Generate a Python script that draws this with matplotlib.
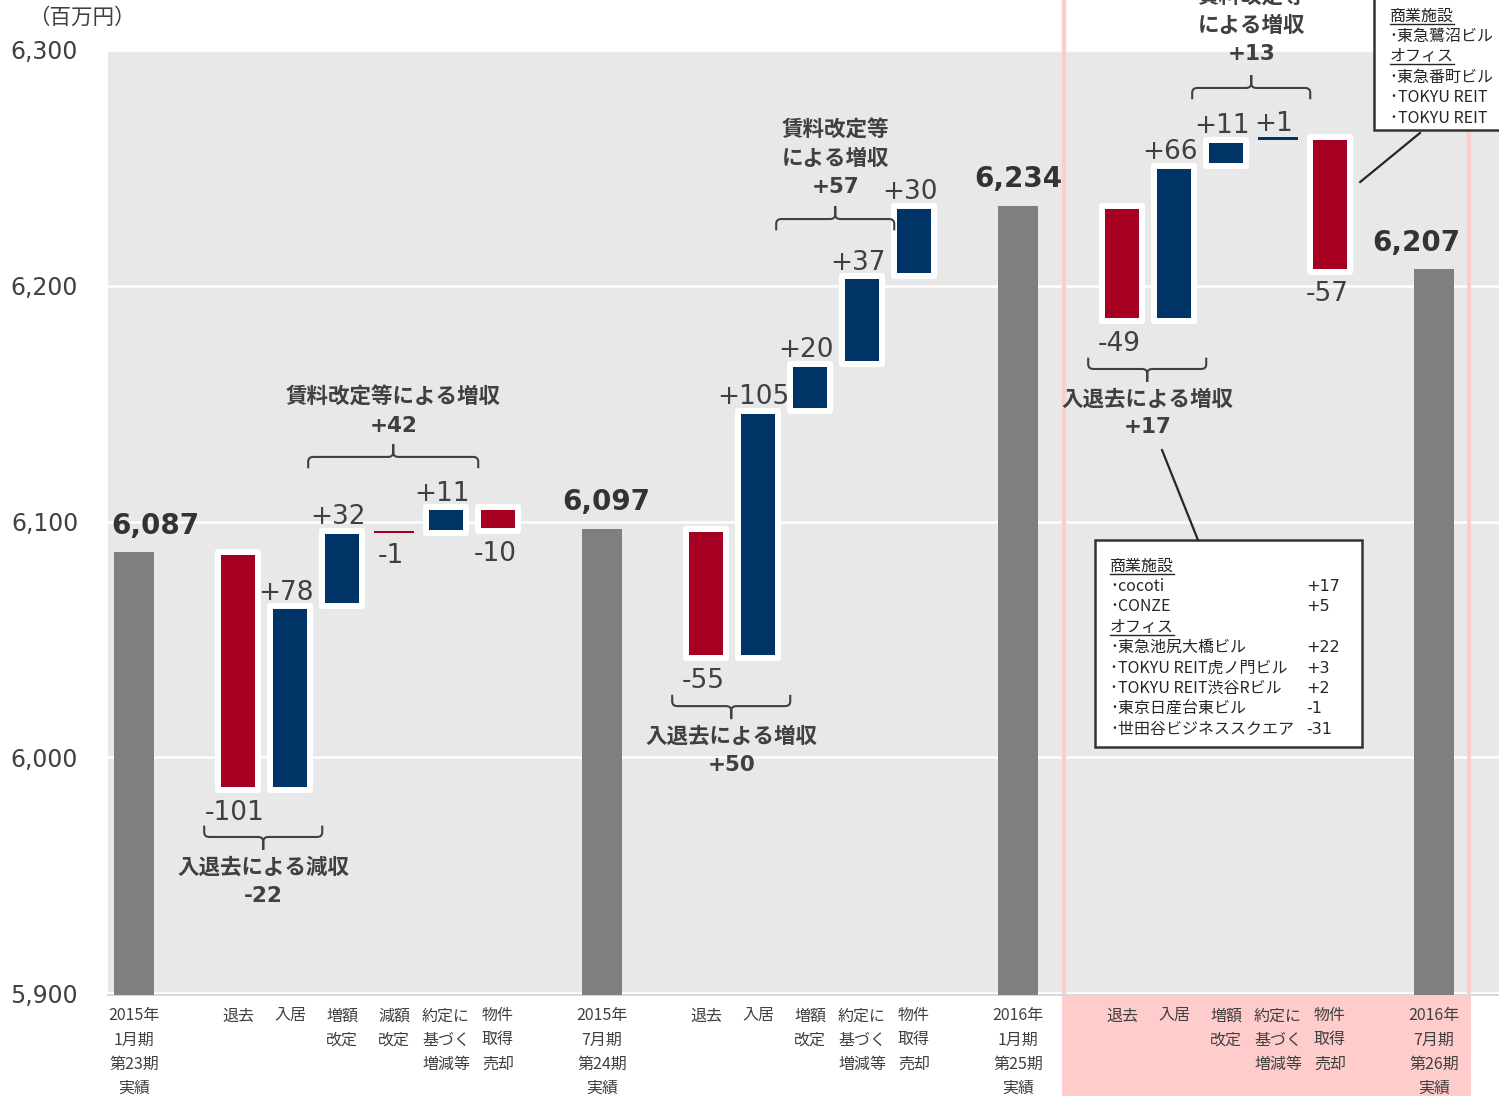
import numpy as np
import matplotlib.pyplot as plt
import matplotlib.transforms as mtransforms
from matplotlib.patches import Rectangle, PathPatch
from matplotlib.path import Path

plt.rcParams['font.family'] = ['DejaVu Sans', 'Noto Sans CJK JP']
JP = ['Noto Sans CJK JP', 'DejaVu Sans']

# ---- data ----
period_labels = ["2015年\n1月期\n第23期\n実績", "2015年\n7月期\n第24期\n実績",
                 "2016年\n1月期\n第25期\n実績", "2016年\n7月期\n第26期\n実績"]
period_totals = [6087, 6097, 6234, 6207]

step_labels = [
    ["退去", "入居", "増額\n改定", "減額\n改定", "約定に\n基づく\n増減等", "物件\n取得\n売却"],
    ["退去", "入居", "増額\n改定", "約定に\n基づく\n増減等", "物件\n取得\n売却"],
    ["退去", "入居", "増額\n改定", "約定に\n基づく\n増減等", "物件\n取得\n売却"],
]
step_values = [
    [-101, 78, 32, -1, 11, -10],
    [-55, 105, 20, 37, 30],
    [-49, 66, 11, 1, -57],
]

# brace groups: (period, first step, last step)
group_steps = [(0, 0, 1), (0, 2, 4), (1, 0, 1), (1, 2, 3), (2, 0, 1), (2, 2, 3)]
group_titles = ["入退去による減収", "賃料改定等による増収", "入退去による増収",
                "賃料改定等\nによる増収", "入退去による増収", "賃料改定等\nによる増収"]
group_values = ["-22", "+42", "+50", "+57", "+17", "+13"]

# property details (第26期 物件取得売却)
acq_retail = ["･cocoti", "･CONZE"]
acq_retail_values = ["+17", "+5"]
acq_office = ["･東急池尻大橋ビル", "･TOKYU REIT虎ノ門ビル", "･TOKYU REIT渋谷Rビル",
              "･東京日産台東ビル", "･世田谷ビジネススクエア"]
acq_office_values = ["+22", "+3", "+2", "-1", "-31"]
sold_retail = ["･東急鷺沼ビル"]
sold_office = ["･東急番町ビル", "･TOKYU REIT", "･TOKYU REIT"]

# ---- style ----
GRAY = '#7f7f7f'
RED = '#a50021'
NAVY = '#003366'
PINK = '#ffcccc'
BG = '#e8e8e8'
TXT = '#404040'
BAR_W = 0.77

fig = plt.figure(figsize=(14.99, 10.96), dpi=100)
ax = fig.add_axes([0.07205, 0.09179, 0.92795, 0.86259])
ax.set_facecolor(BG)
ax.set_xlim(-0.5, 26.25)
ax.set_ylim(5899, 6300)

for s in ['top', 'right', 'left']:
    ax.spines[s].set_visible(False)
ax.spines['bottom'].set_color('#d9d9d9')
ax.spines['bottom'].set_linewidth(1.5)

yt = [5900, 6000, 6100, 6200, 6300]
ax.set_yticks(yt)
ax.set_yticklabels([f"{v:,}" for v in yt])
ax.tick_params(axis='y', length=0, pad=21.5, labelsize=17, labelcolor=TXT)
ax.set_xticks([])
ax.set_axisbelow(True)
ax.yaxis.grid(True, color='white', linewidth=1.8)

fig.text(28 / 1499, 1 - 18 / 1096, "（百万円）", fontsize=15.5, color=TXT,
         family=JP, ha='left', va='center')

# slot positions
total_x = []
step_x = []
pos = 0
for p in range(len(period_totals)):
    total_x.append(pos)
    if p < len(step_values):
        xs = [pos + 2 + i for i in range(len(step_values[p]))]
        step_x.append(xs)
        pos = xs[-1] + 2

# pink highlight for the latest period
blend_ax = mtransforms.blended_transform_factory(ax.transData, ax.transAxes)
blend_fig = mtransforms.blended_transform_factory(ax.transData, fig.transFigure)
x_lo = total_x[2] + 0.88
x_hi = total_x[3] + 0.68
for xv in [x_lo, x_hi]:
    ax.plot([xv, xv], [0, 1.06], transform=blend_ax, color=PINK, lw=3,
            clip_on=False, zorder=1)
fig.add_artist(Rectangle((x_lo - 0.03, 0), x_hi - x_lo + 0.06, 1 - 995 / 1096,
                         transform=blend_fig, facecolor=PINK, edgecolor='none',
                         zorder=-1))

# total bars
y_bot = ax.get_ylim()[0]
ax.bar(total_x, np.array(period_totals) - y_bot, bottom=y_bot, width=BAR_W,
       color=GRAY, zorder=3)
nudge = [21, 4, 0, -18]
for x, v, dx in zip(total_x, period_totals, nudge):
    ax.annotate(f"{v:,}", (x, v), xytext=(dx * 0.72, 9), textcoords='offset points',
                ha='center', va='bottom', fontsize=20, fontweight='bold',
                color='#333333', annotation_clip=False)

# step bars
for p in range(len(step_values)):
    level = period_totals[p]
    for x, v in zip(step_x[p], step_values[p]):
        color = NAVY if v > 0 else RED
        big = abs(v) > 1
        bars = ax.bar(x, v, bottom=level, width=BAR_W, color=color,
                      edgecolor='white' if big else color,
                      linewidth=4.3 if big else 0, zorder=3)
        for b in bars:
            b.set_joinstyle('round')
        end = level + v
        if v > 0:
            ax.annotate(f"+{v}", (x - 0.08, end), xytext=(0, 0.5), textcoords='offset points',
                        ha='center', va='bottom', fontsize=19, color=TXT,
                        annotation_clip=False, zorder=4)
        else:
            ax.annotate(f"{v}", (x - 0.06, end), xytext=(0, -7), textcoords='offset points',
                        ha='center', va='top', fontsize=19, color=TXT,
                        annotation_clip=False, zorder=4)
        level = end


# category labels
def cat_label(x, text):
    for i, line in enumerate(text.split("\n")):
        ax.annotate(line, (x, 0), xycoords=('data', 'axes fraction'),
                    xytext=(0, -14.8 - i * 17.3), textcoords='offset points',
                    ha='center', va='center', fontsize=11.5, color=TXT,
                    family=JP, annotation_clip=False)


for x, lab in zip(total_x, period_labels):
    cat_label(x, lab)
for p in range(len(step_labels)):
    for x, lab in zip(step_x[p], step_labels[p]):
        cat_label(x, lab)


# braces with group totals
def brace(x0, x1, yb, d, h1=4.8, h2=5.5, rx=0.1, ry=2.0):
    xc = (x0 + x1) / 2
    verts = [(x0, yb - d * h1), (x0, yb - d * ry), (x0, yb), (x0 + rx, yb),
             (xc - rx, yb), (xc, yb), (xc, yb + d * ry), (xc, yb + d * h2),
             (xc, yb + d * ry), (xc, yb), (xc + rx, yb),
             (x1 - rx, yb), (x1, yb), (x1, yb - d * ry), (x1, yb - d * h1)]
    codes = [Path.MOVETO, Path.LINETO, Path.CURVE3, Path.CURVE3,
             Path.LINETO, Path.CURVE3, Path.CURVE3, Path.LINETO,
             Path.LINETO, Path.CURVE3, Path.CURVE3,
             Path.LINETO, Path.CURVE3, Path.CURVE3, Path.LINETO]
    ax.add_patch(PathPatch(Path(verts, codes), facecolor='none', edgecolor=TXT,
                           lw=1.5, zorder=4, clip_on=False))
    return xc


brace_base = [5966.2, 6127.4, 6021.7, 6228.3, 6164.7, 6283.9]
brace_dir = [-1, 1, -1, 1, -1, 1]
text_first = [5953.4, 6152.8, 6009.0, 6266.1, 6152.0, 6322.5]
for (p, a, b), title, val, yb, d, ty in zip(group_steps, group_titles, group_values,
                                             brace_base, brace_dir, text_first):
    xc = brace(step_x[p][a] - 0.65, step_x[p][b] + 0.62, yb, d)
    lines = title.split("\n")
    for i, line in enumerate(lines):
        ax.annotate(line, (xc, ty), xytext=(0, -i * 20.5), textcoords='offset points',
                    ha='center', va='center', fontsize=15.5, fontweight='bold',
                    color=TXT, family=JP, annotation_clip=False, zorder=5)
    ax.annotate(val, (xc, ty), xytext=(0, -len(lines) * 20.5), textcoords='offset points',
                ha='center', va='center', fontsize=15.5, fontweight='bold',
                color=TXT, annotation_clip=False, zorder=5)


# detail boxes
LINE_H = 8.65
underlined = []


def box_text(x_name, x_val, y_first, heads, names, values):
    y = y_first
    for head, nm, vl in zip(heads, names, values):
        t = ax.text(x_name, y, head, fontsize=11.5, color='#262626', family=JP,
                    va='center', ha='left', zorder=7, clip_on=False)
        underlined.append(t)
        y -= LINE_H
        for i, n in enumerate(nm):
            ax.text(x_name, y, n, fontsize=11.5, color='#262626', family=JP,
                    va='center', ha='left', zorder=7, clip_on=False)
            if vl is not None:
                ax.text(x_val, y, vl[i], fontsize=11.5, color='#262626',
                        va='center', ha='left', zorder=7, clip_on=False)
            y -= LINE_H


ax.add_patch(Rectangle((18.48, 6004.3), 5.14, 87.9, facecolor='white',
                       edgecolor='#333333', lw=1.8, zorder=6))
ax.plot([19.77, 20.46], [6130.3, 6092.2], color='#262626', lw=1.6, zorder=6)
box_text(18.77, 22.55, 6081.1, ["商業施設", "オフィス"],
         [acq_retail, acq_office], [acq_retail_values, acq_office_values])

ax.add_patch(Rectangle((23.85, 6266), 4.0, 80, facecolor='white',
                       edgecolor='#333333', lw=1.8, zorder=6, clip_on=False))
ax.plot([23.58, 24.73], [6244, 6264.8], color='#262626', lw=1.6, zorder=6,
        clip_on=False)
box_text(24.15, None, 6314.4, ["商業施設", "オフィス"],
         [sold_retail, sold_office], [None, None])

fig.canvas.draw()
r = fig.canvas.get_renderer()
inv = ax.transData.inverted()
for t in underlined:
    bb = t.get_window_extent(r)
    (ux0, uy), (ux1, _) = inv.transform([[bb.x0, bb.y0 + 1], [bb.x1, bb.y0 + 1]])
    ax.plot([ux0, ux1], [uy, uy], color='#262626', lw=1.0, zorder=7, clip_on=False)

fig.savefig("out.png", dpi=100)
